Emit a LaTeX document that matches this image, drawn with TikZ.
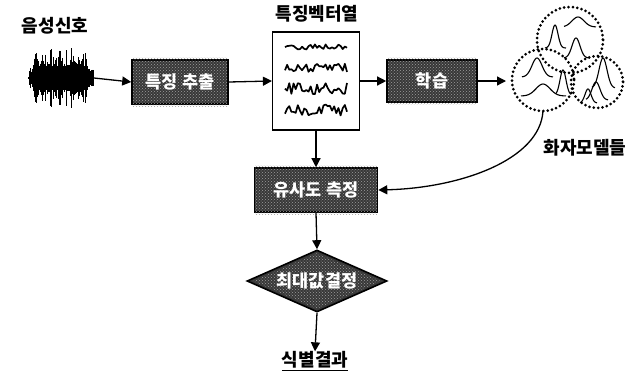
\documentclass[tikz,border=0pt]{standalone}
\usepackage{fontspec}
\newfontfamily\kr{Noto Sans CJK KR}
\usetikzlibrary{arrows.meta,shapes.geometric,patterns}
\begin{document}
\begin{tikzpicture}[x=1pt,y=-1pt,
  label/.style={font=\kr\bfseries\fontsize{18}{18}\selectfont, inner sep=0pt},
  boxtext/.style={font=\kr\bfseries\fontsize{17.5}{17.5}\selectfont, text=white, inner sep=0pt},
  darkbox/.style={draw=black, line width=1.6pt, fill=black!78, inner sep=0pt},
  flow/.style={line width=1.3pt, -{Triangle[length=9pt,width=9pt]}},
  wave/.style={line width=1.7pt, line join=round},
  bump/.style={line width=1.1pt},
  ring/.style={line width=3pt, dash pattern=on 0pt off 4.4pt, line cap=round}
]
\useasboundingbox (0,0) rectangle (640,378);

% input label and speech waveform
\node[label] (sig) at (55,26) {음성신호};
\coordinate (wL) at (28,78);
\coordinate (wR) at (94,78);
\pgfmathsetseed{21}
\foreach \i in {0,...,64}{
  \pgfmathsetmacro{\xx}{29+\i}
  \pgfmathsetmacro{\env}{(\i<4 ? 0.25 : (\i>58 ? 0.35 : 1))}
  \pgfmathsetmacro{\hh}{4+\env*(8+22*rnd*rnd)}
  \draw[line width=1pt] (\xx,78-\hh) -- (\xx,78+\hh);
}
\draw[line width=1.4pt] (wL) -- (wR);

% processing boxes
\node[darkbox, minimum width=96pt, minimum height=44pt] (fe) at (180,82) {};
\node[darkbox, minimum width=90pt, minimum height=42pt] (tr) at (432,81) {};
\node[darkbox, minimum width=123pt, minimum height=44pt] (sim) at (316,190) {};
\node[darkbox, diamond, aspect=2.3, minimum width=140pt, minimum height=62pt] (mx) at (317,281) {};
\foreach \n in {fe,tr,sim}{
  \fill[pattern=crosshatch dots, pattern color=white!62!black] ([shift={(1.5pt,-1.5pt)}]\n.south west) rectangle ([shift={(-1.5pt,1.5pt)}]\n.north east);
}
\fill[pattern=crosshatch dots, pattern color=white!62!black] ([yshift=-4pt]mx.north) -- ([xshift=-7pt]mx.east) -- ([yshift=4pt]mx.south) -- ([xshift=7pt]mx.west) -- cycle;
\node[boxtext] at (fe) {특징 추출};
\node[boxtext] at (tr) {학습};
\node[boxtext] at (sim) {유사도 측정};
\node[boxtext] at (mx) {최대값결정};

% feature vector sequence
\node[draw, line width=1.2pt, fill=white, minimum width=87pt, minimum height=98pt, inner sep=0pt] (fv) at (316,81) {};
\node[label] (fvl) at (317,14) {특징벡터열};
\pgfmathsetseed{11}
\foreach \yy/\amp in {47/3, 68/4.5, 89/6, 110/5.5}{
  \draw[wave] plot[domain=285:347, samples=30] (\x,{\yy+\amp*rand});
}

% speaker models
\draw[ring] (570,40) circle (33);
\draw[ring] (543,80) circle (31);
\draw[ring] (597,82) circle (26);
\coordinate (md) at (543,111);
\foreach \cx/\base/\h/\s/\a/\b in {
  555/48/23/3/545/566,
  578/27/10/6/564/596,
  576/58/20/4/564/590,
  537/77/19/5/522/553,
  543/96/12/7/521/566,
  563/95/25/3/556/571,
  603/88/30/4/592/615,
  596/100/18/4/586/608,
  588/103/14/3/580/597}{
  \draw[bump] plot[domain=\a:\b, samples=40] (\x,{\base-\h*exp(-((\x-\cx)/\s)^2/2)});
}
\node[label] (sml) at (585,148) {화자모델들};

% result
\node[label] (res) at (315,361) {\underline{식별결과}};

% connectors
\draw[flow] (wR) -- (fe.west);
\draw[flow] (fe.east) -- (fv.west);
\draw[flow] (fv.east |- tr.west) -- (tr.west);
\draw[flow] (tr.east) -- (506,81);
\draw[flow] (fv.south) -- (sim.north);
\draw[flow] (md) .. controls (540,160) and (460,188) .. (sim.east);
\draw[flow] (sim.south) -- (mx.north);
\draw[flow] (mx.south) -- (res.north);
\end{tikzpicture}
\end{document}
